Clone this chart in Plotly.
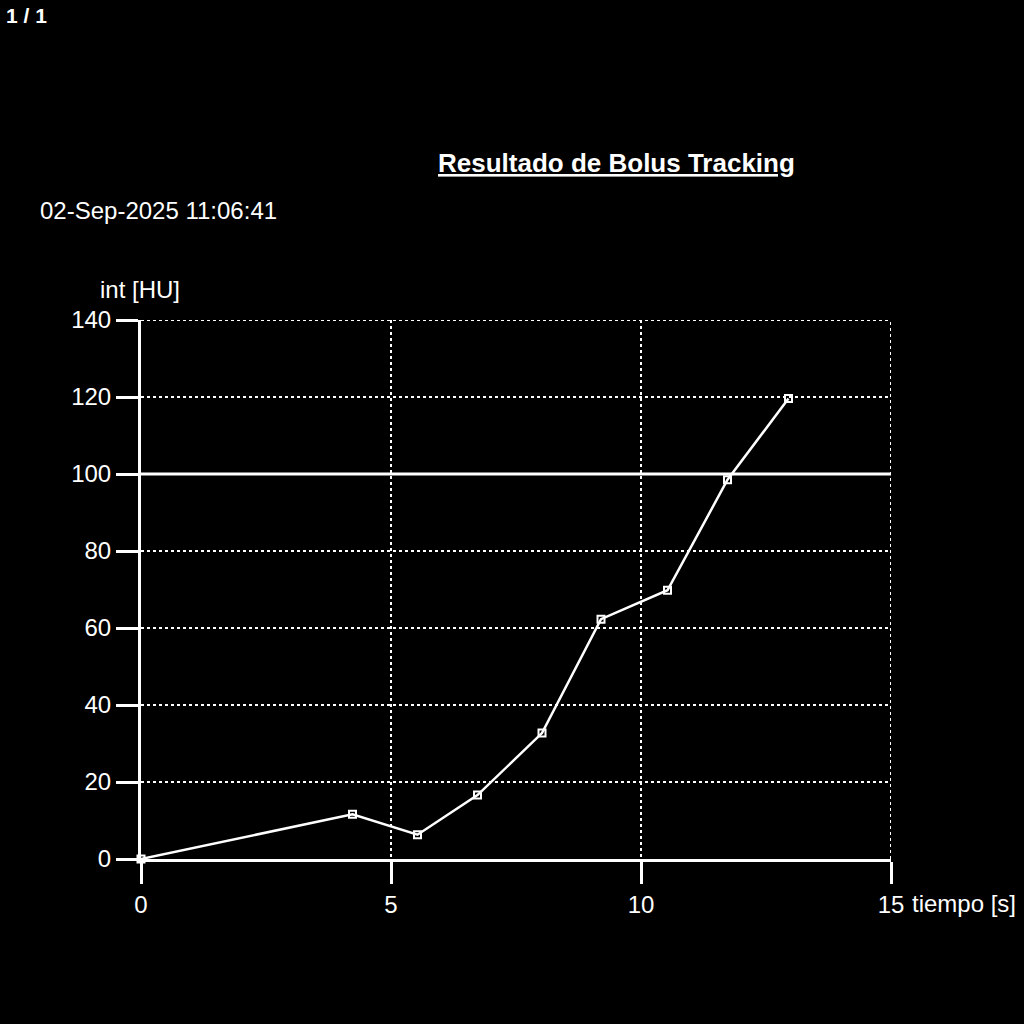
import plotly.graph_objects as go

# Data
tiempo = [0, 4.23, 5.53, 6.73, 8.02, 9.2, 10.53, 11.73, 12.95]
intensidad = [0, 11.6, 6.3, 16.6, 32.7, 62.3, 69.8, 98.5, 119.6]
umbral = 100
x_ticks = [0, 5, 10, 15]
y_ticks = [0, 20, 40, 60, 80, 100, 120, 140]

FONT = "Liberation Sans, Arial, sans-serif"

fig = go.Figure()
fig.add_trace(go.Scatter(
    x=tiempo, y=intensidad, mode="lines+markers",
    line=dict(color="white", width=2.5),
    marker=dict(symbol="square-open", size=7, color="white", line=dict(color="white", width=2)),
    showlegend=False, cliponaxis=False,
))

# gridlines at the range edges (Plotly omits them)
fig.add_shape(type="line", xref="x", yref="y", x0=x_ticks[0], x1=x_ticks[-1], y0=y_ticks[-1], y1=y_ticks[-1],
              line=dict(color="white", width=2, dash="dot"))
fig.add_shape(type="line", xref="x", yref="y", x0=x_ticks[-1], x1=x_ticks[-1], y0=y_ticks[0], y1=y_ticks[-1],
              line=dict(color="white", width=2, dash="dot"))

fig.add_shape(type="line", xref="x", yref="y", x0=x_ticks[0], x1=x_ticks[-1], y0=umbral, y1=umbral,
              line=dict(color="white", width=3))

fig.update_layout(
    width=1024, height=1024,
    paper_bgcolor="black", plot_bgcolor="black",
    margin=dict(l=141, r=133, t=320, b=165),
    font=dict(family=FONT, color="white", size=24),
    xaxis=dict(range=[0, 15], tickvals=x_ticks, ticktext=["0", "5", "10", "15"],
               showline=True, linecolor="white", linewidth=3,
               ticks="outside", ticklen=22, tickwidth=3, tickcolor="white",
               showgrid=True, gridcolor="white", griddash="dot", gridwidth=2,
               zeroline=False, tickfont=dict(size=24, color="white")),
    yaxis=dict(range=[0, 140], tickvals=y_ticks,
               showline=True, linecolor="white", linewidth=3,
               ticks="outside", ticklen=22, tickwidth=3, tickcolor="white",
               showgrid=True, gridcolor="white", griddash="dot", gridwidth=2,
               zeroline=False, tickfont=dict(size=24, color="white")),
)

fig.add_annotation(text="<b><u>Resultado de Bolus Tracking</u></b>", xref="paper", yref="paper",
                   x=(616-141)/750, y=1 + (320-163)/539, xanchor="center", yanchor="middle",
                   showarrow=False, font=dict(size=26, color="white", family=FONT))
fig.add_annotation(text="02-Sep-2025 11:06:41", xref="paper", yref="paper",
                   x=(38-141)/750, y=1 + (320-211)/539, xanchor="left", yanchor="middle",
                   showarrow=False, font=dict(size=24, color="white", family=FONT))
fig.add_annotation(text="<b>1 / 1</b>", xref="paper", yref="paper",
                   x=(4-141)/750, y=1 + (320-15)/539, xanchor="left", yanchor="middle",
                   showarrow=False, font=dict(size=21, color="white", family=FONT))
fig.add_annotation(text="int [HU]", xref="paper", yref="paper",
                   x=(98-141)/750, y=1 + (320-290)/539, xanchor="left", yanchor="middle",
                   showarrow=False, font=dict(size=24, color="white", family=FONT))
fig.add_annotation(text="tiempo [s]", xref="paper", yref="paper",
                   x=(910-141)/750, y=-(903-859)/539, xanchor="left", yanchor="middle",
                   showarrow=False, font=dict(size=24, color="white", family=FONT))

fig.write_html("out.html", config={"displayModeBar": False},
               post_script="document.body.style.margin='0';document.body.style.background='black';")
